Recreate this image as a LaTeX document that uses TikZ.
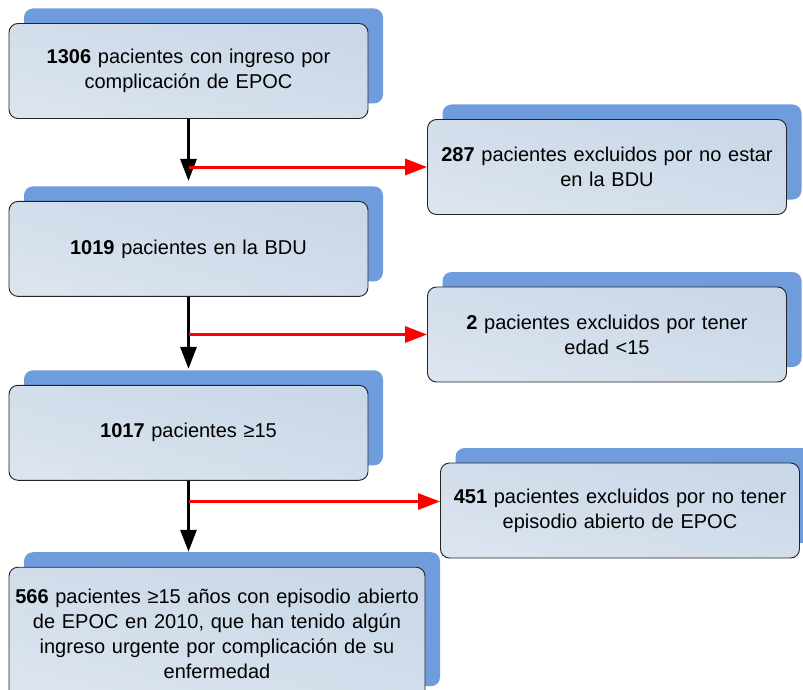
\documentclass[tikz,border=0pt]{standalone}
\usepackage{fontspec}
\setmainfont{Liberation Sans}
\usetikzlibrary{positioning,shadows,arrows.meta}

\definecolor{sombra}{RGB}{111,156,221}
\definecolor{cajaclara}{RGB}{219,228,239}
\definecolor{cajaoscura}{RGB}{201,215,231}
\definecolor{borde}{RGB}{35,35,35}

\begin{document}
\begin{tikzpicture}[x=1pt, y=-1pt, node distance=82pt, font=\fontsize{20}{25}\selectfont]

\tikzstyle{caja}=[rectangle, rounded corners=9pt, draw=borde, line width=0.9pt, top color=cajaoscura, bottom color=cajaclara, shading angle=-15, general shadow={fill=sombra, shadow xshift=15pt, shadow yshift=15pt}, text width=359pt, inner sep=0pt, minimum height=95pt, text centered]
\tikzstyle{flecha}=[-{Triangle[length=22pt,width=16pt]}, line width=3pt]
\tikzstyle{flecharoja}=[flecha, red]

\useasboundingbox (0,0) rectangle (803,690);

\node[caja] (ingreso) at (188.5,71) {\textbf{1306} pacientes con ingreso por\\complicación de EPOC};
\node[caja] (excbdu) at (607,167) {\textbf{287} pacientes excluidos por no estar\\en la BDU};

\node[caja, below=82pt of ingreso] (bdu) {\textbf{1019} pacientes en la BDU};
\node[caja] (excedad) at (607,334.5) {\textbf{2} pacientes excluidos por tener\\edad <15};

\node[caja, below=88pt of bdu] (mayores) {\textbf{1017} pacientes ≥15};
\node[caja] (excepi) at (620,510.5) {\textbf{451} pacientes excluidos por no tener\\episodio abierto de EPOC};

\node[caja, text width=416pt, minimum height=134pt, below=86pt of mayores.south west, anchor=north west] (final) {\textbf{566} pacientes ≥15 años con episodio abierto\\de EPOC en 2010, que han tenido algún\\ingreso urgente por complicación de su\\enfermedad};

\draw[flecha, shorten >=20pt] (ingreso) -- (bdu);
\draw[flecharoja] (ingreso.south |- excbdu.west) -- (excbdu.west);

\draw[flecha, shorten >=16pt] (bdu) -- (mayores);
\draw[flecharoja] (bdu.south |- excedad.west) -- (excedad.west);

\draw[flecha, shorten >=15pt] (mayores.south) -- (mayores.south |- final.north);
\draw[flecharoja] ([yshift=9pt]excepi.west -| mayores.south) -- ([yshift=9pt]excepi.west);

\end{tikzpicture}
\end{document}
